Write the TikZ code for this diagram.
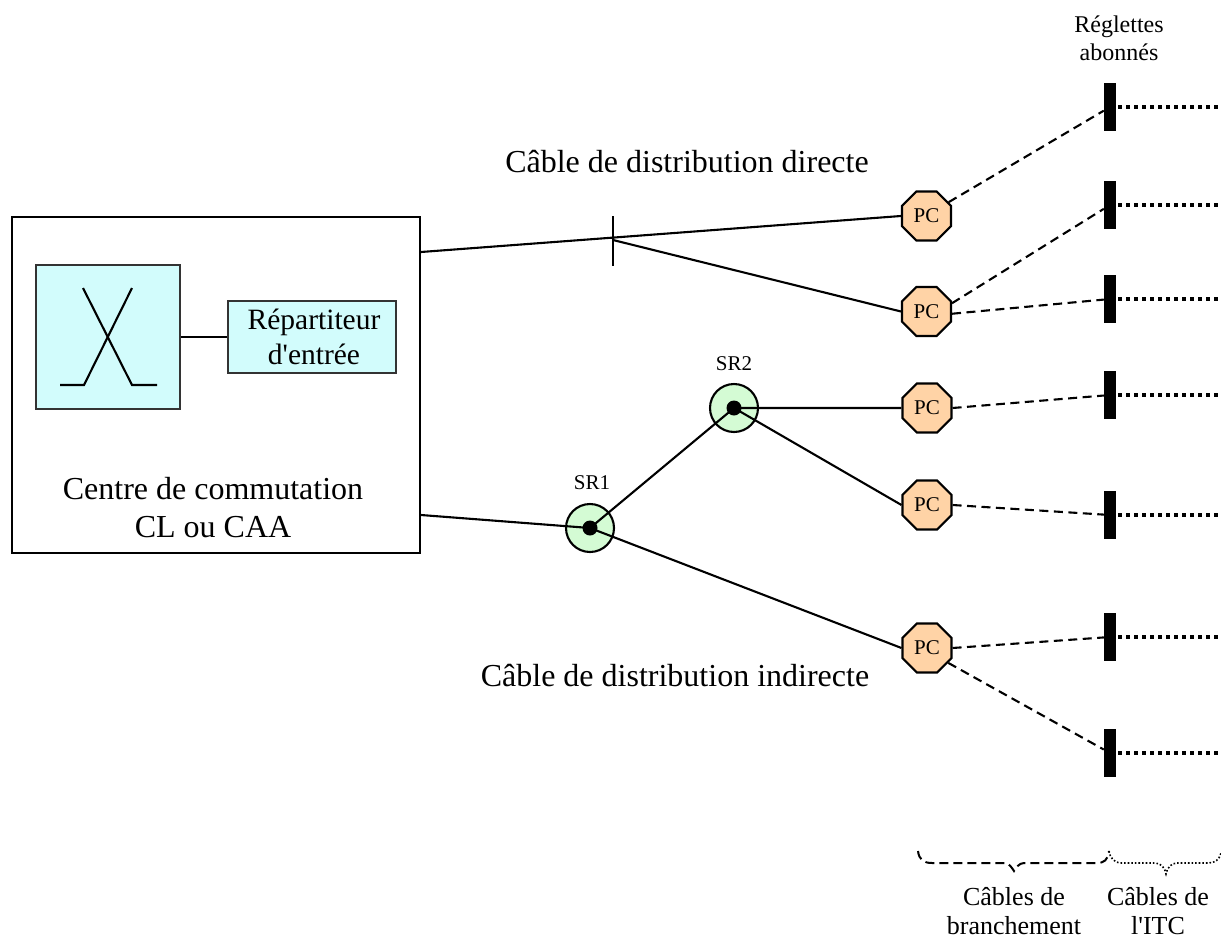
\documentclass[tikz,border=0pt]{standalone}
\usepackage{fontspec}
\setmainfont[Ligatures=TeXOff]{Liberation Serif}
\usetikzlibrary{shapes.geometric}
\definecolor{pcfill}{HTML}{FFD3A6}
\definecolor{srfill}{HTML}{D4FBD4}
\definecolor{swfill}{HTML}{D2FCFC}
\tikzset{
  wire/.style={line width=2.1pt,black},
  cablebr/.style={line width=2.1pt,black,dash pattern=on 9pt off 5.5pt},
  itc/.style={line width=4pt,black,dash pattern=on 4pt off 4pt},
  pcnode/.style={regular polygon,regular polygon sides=8,minimum size=53pt,inner sep=0pt,draw,line width=2.1pt,fill=pcfill,font=\fontsize{21}{24}\selectfont},
  srnode/.style={circle,minimum size=48pt,inner sep=0pt,draw,line width=2.1pt,fill=srfill},
  srdot/.style={circle,minimum size=15pt,inner sep=0pt,fill=black},
  bar/.style={rectangle,minimum width=12pt,minimum height=48pt,inner sep=0pt,fill=black},
  swbox/.style={rectangle,inner sep=0pt,draw=black!80,line width=1.8pt,fill=swfill},
  big/.style={font=\fontsize{32}{38}\selectfont,align=center,inner sep=0pt},
  mid/.style={font=\fontsize{26}{29}\selectfont,align=center,inner sep=0pt},
  small/.style={font=\fontsize{21}{24}\selectfont,align=center,inner sep=0pt},
}
\begin{document}
\begin{tikzpicture}[x=1pt,y=-1pt]
\useasboundingbox (0,0) rectangle (1221,940);
% central office
\node[rectangle,draw,line width=2.1pt,minimum width=408pt,minimum height=336pt,inner sep=0pt] (cc) at (216,385) {};
\node[swbox,minimum width=144pt,minimum height=144pt] (sw) at (108,337) {};
\node[swbox,minimum width=168pt,minimum height=72pt] (rep) at (312,337) {};
\node[font=\fontsize{29.5}{35}\selectfont,align=center,inner sep=0pt] (reptext) at (314,337) {Répartiteur\\d'entrée};
\draw[wire] (sw) -- (rep);
\coordinate (xa) at (83,288); \coordinate (xb) at (132,385); \coordinate (xc) at (157,385);
\coordinate (xd) at (132,288); \coordinate (xe) at (84,385); \coordinate (xf) at (60,385);
\draw[wire] (xa) -- (xb) -- (xc);
\draw[wire] (xd) -- (xe) -- (xf);
\node[big] (cctext) at (213,508) {Centre de commutation\\CL ou CAA};
% nodes
\node[pcnode] (pc1) at (926.5,216) {PC};
\node[pcnode] (pc2) at (926.5,311.5) {PC};
\node[pcnode] (pc3) at (927,408) {PC};
\node[pcnode] (pc4) at (927,505) {PC};
\node[pcnode] (pc5) at (927,648) {PC};
\node[srnode] (sr1) at (590,528) {};
\node[srnode] (sr2) at (734,408) {};
\node[srdot] (d1) at (590,528) {};
\node[srdot] (d2) at (734,408) {};
\node[small] (l1) at (592,483) {SR1};
\node[small] (l2) at (734,364) {SR2};
% direct
\coordinate (c1) at (421,252);
\coordinate (c2) at (421,515);
\coordinate (j) at (613,240);
\coordinate (t1) at (613,216);
\coordinate (t2) at (613,266);
\draw[wire] (c1) -- (pc1.west);
\draw[wire] (t1) -- (t2);
\draw[wire] (j) -- (pc2.west);
% indirect
\draw[wire] (c2) -- (d1.center);
\draw[wire] (d1.center) -- (d2.center);
\draw[wire] (d1.center) -- (pc5.west);
\draw[wire] (d2.center) -- (pc3.west);
\draw[wire] (d2.center) -- (pc4.west);
% bars
\node[bar] (r1) at (1110,107) {};
\node[bar] (r2) at (1110,205) {};
\node[bar] (r3) at (1110,299) {};
\node[bar] (r4) at (1110,395) {};
\node[bar] (r5) at (1110,515) {};
\node[bar] (r6) at (1110,637) {};
\node[bar] (r7) at (1110,753) {};
\draw[cablebr] (pc1.32) -- (r1);
\draw[cablebr] (pc2.18) -- (r2);
\draw[cablebr] (pc2.-5) -- (r3);
\draw[cablebr] (pc3.east) -- (r4);
\draw[cablebr] (pc4.east) -- (r5);
\draw[cablebr] (pc5.east) -- (r6);
\draw[cablebr] (pc5.-35) -- (r7);
% ITC lines
\foreach \n/\y in {1/107,2/205,3/299,4/395,5/515,6/637,7/753}{
  \coordinate (e\n) at (1219,\y);
  \draw[itc] (r\n.east) ++(2,0) -- (e\n);
}
% labels
\node[big] (dd) at (687,162) {Câble de distribution directe};
\node[big] (di) at (675,676) {Câble de distribution indirecte};
\node[font=\fontsize{24}{28}\selectfont,align=center,inner sep=0pt] (reg) at (1119,38) {Réglettes\\abonnés};
% braces
\coordinate (b0) at (918,851);
\coordinate (b1) at (1014,871);
\coordinate (b2) at (1109,851);
\draw[line width=2pt,dash pattern=on 9pt off 5pt] (b0) .. controls (919,860) and (924,863) .. (932,863) -- (1005,863) .. controls (1009,863) and (1012,868) .. (b1) .. controls (1016,868) and (1019,863) .. (1024,863) -- (1097,863) .. controls (1104,863) and (1108,860) .. (b2);
\coordinate (b3) at (1166,874);
\coordinate (b4) at (1221,853);
\draw[line width=1.6pt,dotted] (b2) .. controls (1110,858) and (1114,863) .. (1122,863) -- (1155,863) .. controls (1161,863) and (1165,868) .. (b3) .. controls (1167,868) and (1171,863) .. (1177,863) -- (1208,863) .. controls (1215,863) and (1219,860) .. (b4);
\node[mid] (cb) at (1014,911) {Câbles de\\branchement};
\node[mid] (ci) at (1158,911) {Câbles de\\l'ITC};
\end{tikzpicture}
\end{document}
